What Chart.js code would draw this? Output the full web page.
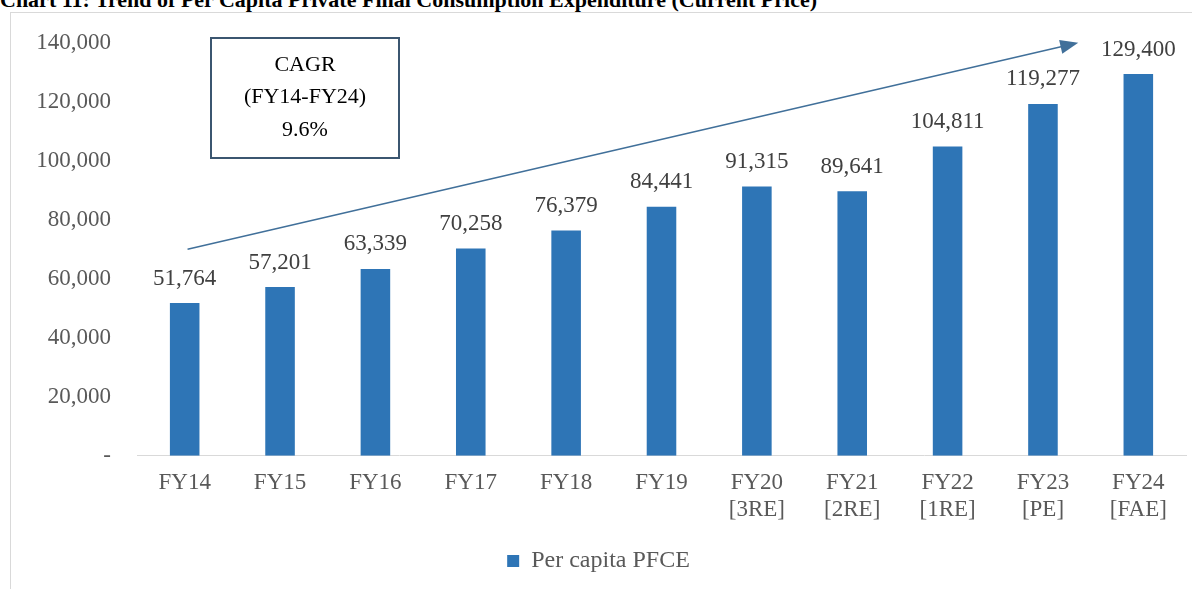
<!DOCTYPE html>
<html>
<head>
<meta charset="utf-8">
<script src="https://cdn.jsdelivr.net/npm/chart.js@4.4.1/dist/chart.umd.min.js"></script>
<style>
  html, body { margin: 0; padding: 0; background: #fff; overflow: hidden; }
  body { width: 1192px; height: 589px; position: relative; }
  #title { position: absolute; left: 0; top: -13px; font: bold 22px "Liberation Serif", serif; color: #000; white-space: nowrap; }
  #frame { position: absolute; left: 10px; top: 12px; width: 1200px; height: 600px; border-left: 1px solid #d9d9d9; border-top: 1px solid #d9d9d9; }
  #wrap { position: absolute; left: 11px; top: 3px; width: 1181px; height: 586px; }
</style>
</head>
<body>
<div id="title">Chart 11: Trend of Per Capita Private Final Consumption Expenditure (Current Price)</div>
<div id="frame"></div>
<div id="wrap"><canvas id="pfceChart"></canvas></div>
<script>
// categories and values
const years = [
  'FY14', 'FY15', 'FY16', 'FY17', 'FY18', 'FY19',
  ['FY20', '[3RE]'], ['FY21', '[2RE]'], ['FY22', '[1RE]'], ['FY23', '[PE]'], ['FY24', '[FAE]']
];
const pfce = [51764, 57201, 63339, 70258, 76379, 84441, 91315, 89641, 104811, 119277, 129400];
const cagrText = ['CAGR', '(FY14-FY24)', '9.6%'];

const serif = '"Liberation Serif", "Times New Roman", serif';

// labels above the bars
const valueLabels = {
    id: 'valueLabels',
    afterDatasetsDraw(chart) {
        const ctx = chart.ctx;
        const meta = chart.getDatasetMeta(0);
        ctx.save();
        ctx.font = '23px ' + serif;
        ctx.fillStyle = '#404040';
        ctx.textAlign = 'center';
        ctx.textBaseline = 'bottom';
        meta.data.forEach(function(bar, i) {
            ctx.fillText(pfce[i].toLocaleString('en-US'), bar.x, bar.y - 13);
        });
        ctx.restore();
    }
};

// trend arrow and CAGR box
const cagrNote = {
    id: 'cagrNote',
    afterDraw(chart) {
        const ctx = chart.ctx;
        const x = chart.scales.x, y = chart.scales.y;
        const x0 = x.getPixelForValue(0.03), y0 = y.getPixelForValue(70000);
        const x1 = x.getPixelForValue(9.37), y1 = y.getPixelForValue(140000);
        ctx.save();
        ctx.strokeStyle = '#41709A';
        ctx.fillStyle = '#41709A';
        ctx.lineWidth = 1.5;
        const ang = Math.atan2(y1 - y0, x1 - x0);
        const hl = 18, hw = 7;
        ctx.beginPath();
        ctx.moveTo(x0, y0);
        ctx.lineTo(x1 - hl * 0.8 * Math.cos(ang), y1 - hl * 0.8 * Math.sin(ang));
        ctx.stroke();
        ctx.beginPath();
        ctx.moveTo(x1, y1);
        ctx.lineTo(x1 - hl * Math.cos(ang) + hw * Math.sin(ang), y1 - hl * Math.sin(ang) - hw * Math.cos(ang));
        ctx.lineTo(x1 - hl * Math.cos(ang) - hw * Math.sin(ang), y1 - hl * Math.sin(ang) + hw * Math.cos(ang));
        ctx.closePath();
        ctx.fill();

        // box
        const bx = 200, by = 35, bw = 188, bh = 120;
        ctx.fillStyle = '#fff';
        ctx.fillRect(bx, by, bw, bh);
        ctx.strokeStyle = '#3B5670';
        ctx.lineWidth = 2;
        ctx.strokeRect(bx, by, bw, bh);
        ctx.fillStyle = '#000';
        ctx.font = '22px ' + serif;
        ctx.textAlign = 'center';
        ctx.textBaseline = 'middle';
        cagrText.forEach(function(t, i) {
            ctx.fillText(t, bx + bw / 2, by + 27 + i * 32.5);
        });
        ctx.restore();
    }
};

new Chart(document.getElementById('pfceChart'), {
    type: 'bar',
    data: {
        labels: years,
        datasets: [{
            label: 'Per capita PFCE',
            data: pfce,
            backgroundColor: '#2E75B6',
            categoryPercentage: 1,
            barPercentage: 0.31
        }]
    },
    options: {
        responsive: true,
        maintainAspectRatio: false,
        animation: false,
        layout: { padding: { left: 0, right: 6, top: 9, bottom: 6 } },
        plugins: {
            tooltip: { enabled: false },
            legend: {
                position: 'bottom',
                labels: {
                    boxWidth: 12, boxHeight: 12, padding: 10,
                    color: '#595959',
                    font: { family: serif, size: 24 }
                }
            }
        },
        scales: {
            x: {
                grid: { display: false, drawTicks: false },
                border: { color: '#d9d9d9', width: 1 },
                ticks: {
                    color: '#595959', padding: 13, maxRotation: 0, autoSkip: false,
                    font: { family: serif, size: 23 }
                },
                afterFit: function(scale) { scale.height += 2; }
            },
            y: {
                min: 0, max: 140000,
                grid: { display: false, drawTicks: false },
                border: { display: false },
                ticks: {
                    stepSize: 20000, padding: 26, color: '#595959',
                    font: { family: serif, size: 23 },
                    callback: function(v) { return v === 0 ? '-' : v.toLocaleString('en-US'); }
                },
                afterFit: function(scale) { scale.width = 126; }
            }
        }
    },
    plugins: [valueLabels, cagrNote]
});
</script>
</body>
</html>
